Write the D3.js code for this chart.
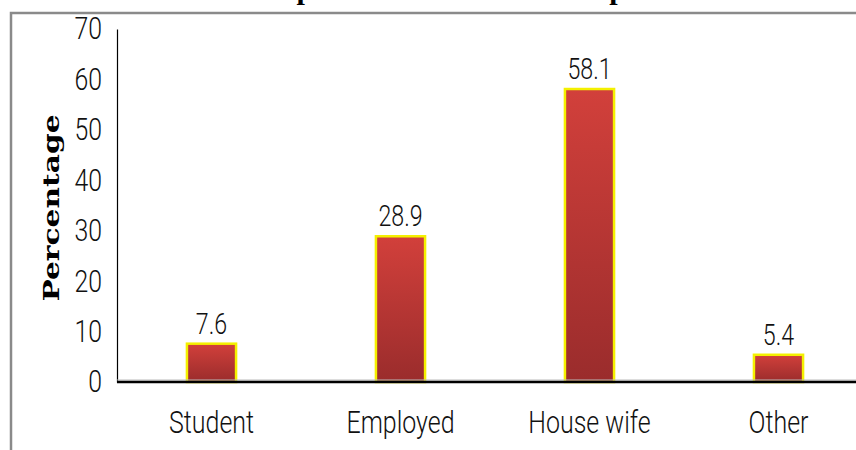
<!DOCTYPE html>
<html lang="en">
<head>
    <meta charset="UTF-8">
    <title>Occupation</title>
    <style>
        body {
            margin: 0;
            background: #fff;
        }

        .tick-label, .value-label, .cat-label {
            font-family: Roboto, "Liberation Sans", Arial, sans-serif;
            font-weight: 300;
            fill: #111;
        }

        .y-title {
            font-family: "DejaVu Serif", Georgia, serif;
            font-weight: bold;
            fill: #000;
        }

        .chart-title {
            font-family: "Liberation Serif", "Times New Roman", serif;
            font-weight: bold;
            fill: #000;
        }
    </style>
</head>
<body>
    <div id="chart"></div>

    <script src="https://cdn.jsdelivr.net/npm/d3@7"></script>
    <script>
        const categories = ["Student", "Employed", "House wife", "Other"];
        const percentages = [7.6, 28.9, 58.1, 5.4];
        const yTicks = [0, 10, 20, 30, 40, 50, 60, 70];

        const width = 856;
        const height = 450;

        const svg = d3.select('#chart')
            .append('svg')
            .attr('width', width)
            .attr('height', height);

        // squeeze text horizontally, the original uses a narrow font
        const condense = (sel, factor) => {
            sel.each(function () {
                const len = this.getComputedTextLength();
                d3.select(this)
                    .attr('textLength', len * factor)
                    .attr('lengthAdjust', 'spacingAndGlyphs');
            });
        };

        const defs = svg.append('defs');
        const grad = defs.append('linearGradient')
            .attr('id', 'barFill')
            .attr('x1', 0).attr('y1', 0)
            .attr('x2', 0).attr('y2', 1);
        grad.append('stop').attr('offset', '0%').attr('stop-color', '#d2403b');
        grad.append('stop').attr('offset', '100%').attr('stop-color', '#9a2c2c');

        // outer grey frame (mostly cut off by the window)
        svg.append('rect')
            .attr('x', 11)
            .attr('y', 13)
            .attr('width', 1000)
            .attr('height', 600)
            .attr('fill', 'none')
            .attr('stroke', '#8a8a8a')
            .attr('stroke-width', 2.5);

        // title sits above the window, only the descenders peek in
        svg.append('text')
            .attr('class', 'chart-title')
            .attr('x', 478)
            .attr('y', -1)
            .attr('text-anchor', 'middle')
            .style('font-size', '30px')
            .text('Occupational status of the respondents');

        const x = d3.scaleBand()
            .domain(categories)
            .range([117, 873])
            .paddingInner(0.74)
            .paddingOuter(0.37);

        const y = d3.scaleLinear()
            .domain([0, 70])
            .range([382, 29]);

        // y axis
        const yAxis = d3.axisLeft(y)
            .tickValues(yTicks)
            .tickFormat(d3.format('d'))
            .tickSize(0)
            .tickPadding(15);

        const yG = svg.append('g')
            .attr('transform', 'translate(117,0)')
            .call(yAxis);
        yG.select('.domain')
            .attr('stroke', '#000')
            .attr('stroke-width', 1.2);
        yG.selectAll('text')
            .attr('class', 'tick-label')
            .style('font-size', '31px')
            .attr('font-family', null)
            .call(condense, 0.8);

        // bars
        svg.selectAll('.bar')
            .data(categories)
            .enter()
            .append('rect')
            .attr('class', 'bar')
            .attr('x', d => x(d))
            .attr('y', (d, i) => y(percentages[i]))
            .attr('width', x.bandwidth())
            .attr('height', (d, i) => y(0) - y(percentages[i]))
            .attr('fill', 'url(#barFill)')
            .attr('stroke', '#f4f000')
            .attr('stroke-width', 2.5);

        // x axis line
        const xAxis = d3.axisBottom(x).tickSize(0).tickPadding(28);
        const xG = svg.append('g')
            .attr('transform', 'translate(0,382)')
            .call(xAxis);
        xG.select('.domain')
            .attr('d', 'M117,0H856')
            .attr('stroke', '#000')
            .attr('stroke-width', 2.5);
        svg.append('line')
            .attr('x1', 117).attr('x2', 856)
            .attr('y1', 380).attr('y2', 380)
            .attr('stroke', '#bbb')
            .attr('stroke-width', 1);
        xG.raise();
        xG.selectAll('text')
            .attr('class', 'cat-label')
            .attr('font-family', null)
            .style('font-size', '32px')
            .call(condense, 0.78);

        // value labels
        svg.selectAll('.value-label')
            .data(categories)
            .enter()
            .append('text')
            .attr('class', 'value-label')
            .attr('x', d => x(d) + x.bandwidth() / 2)
            .attr('y', (d, i) => y(percentages[i]) - 10)
            .attr('text-anchor', 'middle')
            .style('font-size', '29px')
            .text((d, i) => percentages[i])
            .call(condense, 0.8);

        // y title
        svg.append('text')
            .attr('class', 'y-title')
            .attr('transform', 'translate(59,208) rotate(-90)')
            .attr('text-anchor', 'middle')
            .style('font-size', '23px')
            .text('Percentage')
            .attr('textLength', 187)
            .attr('lengthAdjust', 'spacingAndGlyphs');
    </script>
</body>
</html>
